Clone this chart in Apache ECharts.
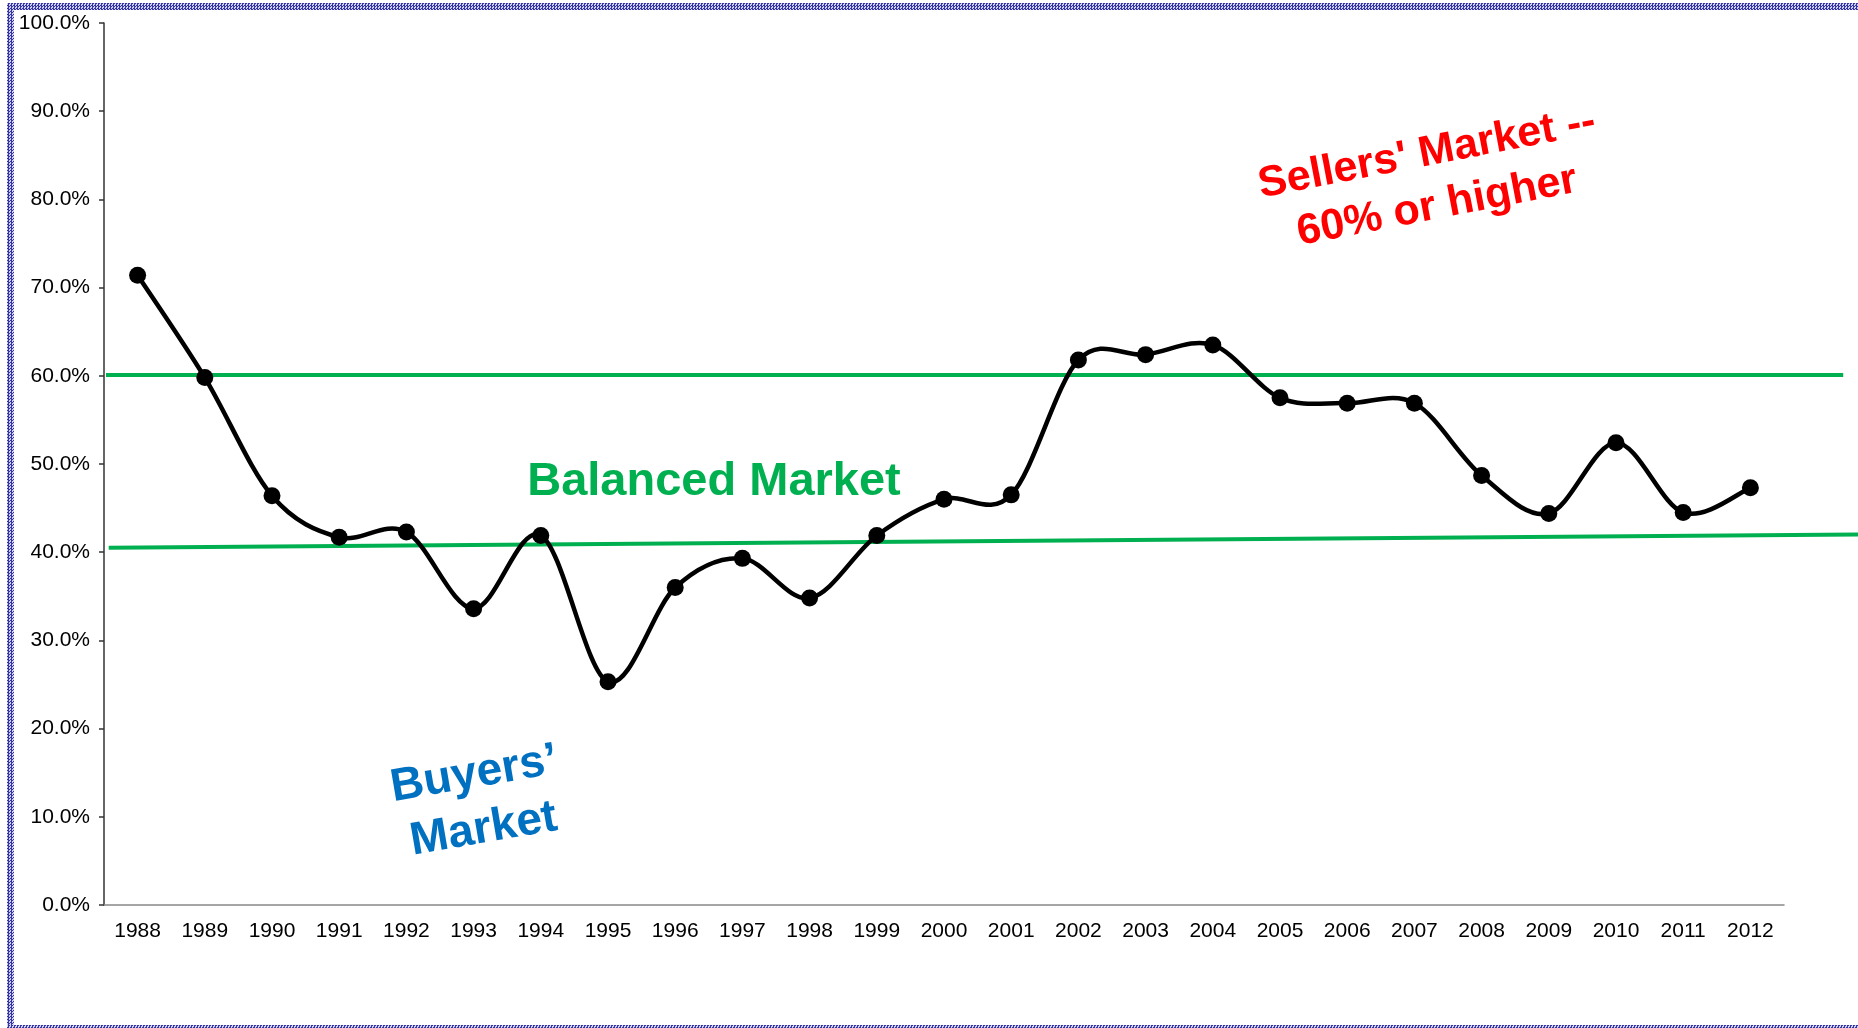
<!DOCTYPE html>
<html>
<head>
<meta charset="utf-8">
<script src="https://cdn.jsdelivr.net/npm/echarts@6/dist/echarts.min.js"></script>
<style>
  html, body { margin: 0; padding: 0; background: #fff; }
  #chart { position: absolute; left: 0; top: 0; width: 1858px; height: 1028px; }
  .edge {
    position: absolute;
    background: repeating-conic-gradient(#3535a5 0 25%, #cfcff0 0 50%) 0 0 / 3px 3px;
  }
</style>
</head>
<body>
<div id="chart"></div>
<div class="edge" style="left:7px; top:3px; width:7px; height:1025px"></div>
<div class="edge" style="left:7px; top:3px; width:1851px; height:7px"></div>
<div class="edge" style="left:7px; top:1025px; width:1851px; height:3px"></div>
<script>
const years = ['1988', '1989', '1990', '1991', '1992', '1993', '1994', '1995', '1996', '1997',
  '1998', '1999', '2000', '2001', '2002', '2003', '2004', '2005', '2006', '2007',
  '2008', '2009', '2010', '2011', '2012']
// share of sales, percent
const shares = [71.4, 59.8, 46.4, 41.7, 42.3, 33.6, 41.9, 25.3, 36.0, 39.3,
  34.8, 41.9, 46.0, 46.5, 61.8, 62.4, 63.5, 57.5, 56.9, 56.9,
  48.7, 44.4, 52.4, 44.5, 47.3]

// reference lines, x in year units on a hidden axis
const sellersLineX = [1987.53, 2013.38]
const sellersLineY = [60.1, 60.1]
const buyersLineX = [1987.57, 2013.6]
const buyersLineY = [40.5, 42.0]

const chart = echarts.init(document.getElementById('chart'))
const font = 'Arial, "Liberation Sans", sans-serif'

// Excel-style smoothed segment (Catmull-Rom as bezier) from point i to i+1
function renderSegment(params, api) {
  const i = params.dataIndex
  const n = shares.length
  if (i >= n - 1) return null
  const pt = (k) => {
    const j = Math.max(0, Math.min(n - 1, k))
    return api.coord([j, shares[j]])
  }
  const p0 = pt(i - 1)
  const p1 = pt(i)
  const p2 = pt(i + 1)
  const p3 = pt(i + 2)
  return {
    type: 'bezierCurve',
    shape: {
      x1: p1[0], y1: p1[1],
      x2: p2[0], y2: p2[1],
      cpx1: p1[0] + (p2[0] - p0[0]) / 6,
      cpy1: p1[1] + (p2[1] - p0[1]) / 6,
      cpx2: p2[0] - (p3[0] - p1[0]) / 6,
      cpy2: p2[1] - (p3[1] - p1[1]) / 6,
    },
    style: { stroke: '#000', lineWidth: 4.5, fill: null, lineCap: 'round' },
  }
}

const option = {
  animation: false,
  backgroundColor: '#fff',
  grid: [
    { left: 104, right: 74, top: 23, bottom: 123 },
    { left: 104, right: 0, top: 23, bottom: 123 },
  ],
  xAxis: [
    {
      type: 'category',
      gridIndex: 0,
      data: years,
      boundaryGap: true,
      axisLine: { lineStyle: { color: '#888', width: 1.5 } },
      axisTick: { length: 7, lineStyle: { color: '#333', width: 1.5 } },
      axisLabel: { color: '#000', fontSize: 21, fontFamily: font, margin: 16, interval: 0 },
      splitLine: { show: false },
    },
    {
      type: 'value',
      gridIndex: 1,
      min: 1987.5,
      max: 2013.6,
      show: false,
    },
  ],
  yAxis: [
    {
      type: 'value',
      gridIndex: 0,
      min: 0,
      max: 100,
      interval: 10,
      axisLine: { show: true, lineStyle: { color: '#333', width: 1.5 } },
      axisTick: { show: true, length: 5, lineStyle: { color: '#333', width: 1.5 } },
      axisLabel: {
        color: '#000',
        fontSize: 21,
        fontFamily: font,
        margin: 14,
        formatter: (v) => v.toFixed(1) + '%',
      },
      splitLine: { show: false },
    },
    {
      type: 'value',
      gridIndex: 1,
      min: 0,
      max: 100,
      show: false,
    },
  ],
  series: [
    {
      name: 'sellers',
      type: 'line',
      xAxisIndex: 1,
      yAxisIndex: 1,
      data: sellersLineX.map((x, i) => [x, sellersLineY[i]]),
      symbol: 'none',
      lineStyle: { color: '#00B050', width: 4 },
      z: 2,
    },
    {
      name: 'buyers',
      type: 'line',
      xAxisIndex: 1,
      yAxisIndex: 1,
      data: buyersLineX.map((x, i) => [x, buyersLineY[i]]),
      symbol: 'none',
      lineStyle: { color: '#00B050', width: 4 },
      z: 2,
    },
    {
      name: 'share-curve',
      type: 'custom',
      xAxisIndex: 0,
      yAxisIndex: 0,
      data: shares.map((v, i) => [i, v]),
      encode: { x: 0, y: 1 },
      renderItem: renderSegment,
      z: 4,
    },
    {
      name: 'share',
      type: 'scatter',
      xAxisIndex: 0,
      yAxisIndex: 0,
      data: shares,
      symbol: 'circle',
      symbolSize: 17,
      itemStyle: { color: '#000', opacity: 1 },
      z: 5,
    },
  ],
  graphic: [
    {
      type: 'text',
      x: 1432,
      y: 180,
      rotation: 0.19,
      style: {
        text: "Sellers' Market --\n60% or higher",
        x: 0,
        y: 0,
        align: 'center',
        verticalAlign: 'middle',
        fill: '#FF0000',
        font: 'bold 43px ' + font,
        lineHeight: 54,
      },
    },
    {
      type: 'text',
      x: 714,
      y: 482,
      style: {
        text: 'Balanced Market',
        x: 0,
        y: 0,
        align: 'center',
        verticalAlign: 'middle',
        fill: '#00B050',
        font: 'bold 47px ' + font,
      },
    },
    {
      type: 'text',
      x: 479,
      y: 802,
      rotation: 0.17,
      style: {
        text: 'Buyers’\nMarket',
        x: 0,
        y: 0,
        align: 'center',
        verticalAlign: 'middle',
        fill: '#0070C0',
        font: 'bold 46px ' + font,
        lineHeight: 56,
      },
    },
  ],
}

chart.setOption(option)
</script>
</body>
</html>
